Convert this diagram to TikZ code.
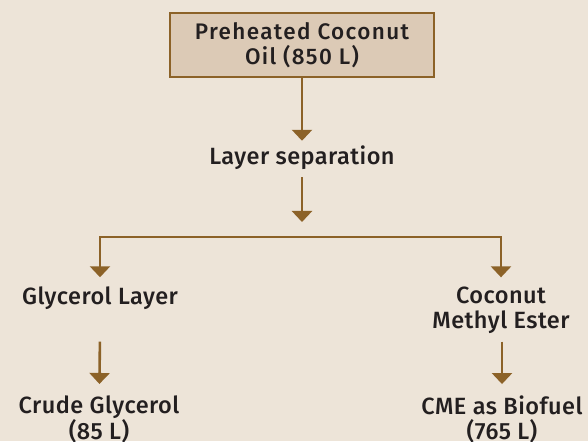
\documentclass[tikz,border=0pt]{standalone}
\usepackage{fontspec}
\setmainfont{Fira Sans}[UprightFont={* Medium},BoldFont={* SemiBold}]
\newfontfamily\boxfont{Fira Sans Medium}[LetterSpace=6]
\newfontfamily\stepfont{Fira Sans Medium}[LetterSpace=2]
\usepackage{tikz}
\usetikzlibrary{arrows.meta,positioning}
\definecolor{bgbeige}{HTML}{EDE4D8}
\definecolor{boxfill}{HTML}{DCCAB6}
\definecolor{brownline}{HTML}{8C6228}
\definecolor{inkdark}{HTML}{231F20}

\begin{document}
\begin{tikzpicture}[x=1pt,y=1pt,->,>={Triangle[width=20pt,length=11pt]},line width=2.6pt,
        draw=brownline,line join=miter,
        every node/.style={font=\stepfont\fontsize{23.5}{25}\selectfont,text=inkdark,align=center,inner sep=0pt},
        stagebox/.style={draw=brownline,fill=boxfill,line width=2.6pt,minimum width=264pt,minimum height=64pt,
            font=\boxfont\fontsize{22.5}{25}\selectfont}]
            \fill   [bgbeige] (0,0) rectangle (588,441);
            \useasboundingbox (0,0) rectangle (588,441);

            \node   [stagebox]      at (302,396)    (oil)       {Preheated Coconut\\Oil (850 L)};
            \node                   at (302,283)    (sep)       {Layer separation};
            \coordinate (split)     at (302,204);
            \node                   at (100,143)    (glyc)      {Glycerol Layer};
            \node                   at (501,131)    (cme)       {Coconut\\Methyl Ester};
            \node                   at (99,22)      (crude)     {Crude Glycerol\\(85 L)};
            \node                   at (502,22)     (fuel)      {CME as Biofuel\\(765 L)};

            \path   (oil) edge [shorten >=4pt] (sep)
            (sep) edge [shorten <=6pt,shorten >=15pt] (split);

            \draw   [<->,shorten <=8pt,shorten >=8pt] (glyc) |- (split) -| (cme);

            \path   (glyc |- cme.south) edge [shorten <=7pt,shorten >=10pt] (crude)
            (cme.south -| fuel) edge [shorten <=7pt,shorten >=10pt] (fuel);
        \end{tikzpicture}
\end{document}
